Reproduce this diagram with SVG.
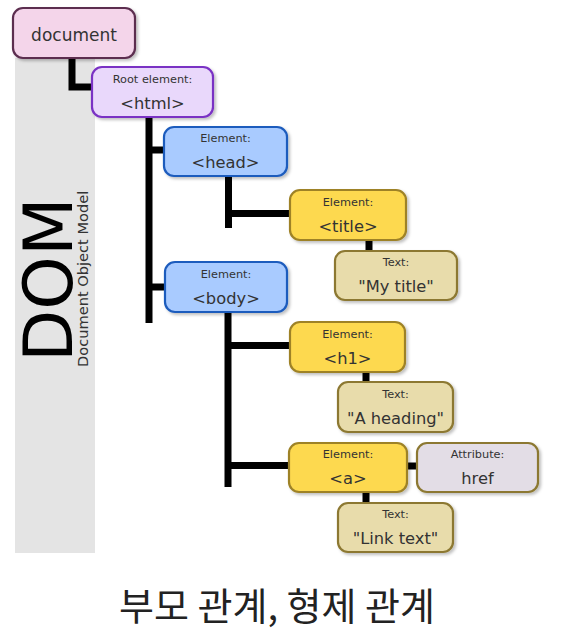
<svg xmlns="http://www.w3.org/2000/svg" width="569" height="640" viewBox="0 0 569 640">
<defs>
<filter id="sh" x="-10%" y="-10%" width="130%" height="140%">
<feDropShadow dx="2" dy="2" stdDeviation="1.5" flood-color="#000" flood-opacity="0.25"/>
</filter>
</defs>
<style>
.box{stroke-width:2.2;filter:url(#sh)}
.doc{fill:#f4d5ea;stroke:#5c2d50}
.root{fill:#e9d8fb;stroke:#7a30c4}
.el{fill:#a9cbff;stroke:#1d5bbd}
.ye{fill:#fdd94f;stroke:#9e8228}
.tx{fill:#e8dcab;stroke:#8c7830}
.at{fill:#e3dde6;stroke:#8c7830}
.s{font-family:"DejaVu Sans",sans-serif;font-size:11.3px;fill:#333;text-anchor:middle}
.b{font-family:"DejaVu Sans",sans-serif;font-size:16.3px;fill:#333;text-anchor:middle}
.c line,.c polyline{stroke:#000;stroke-width:7;fill:none}
</style>
<rect x="15" y="58" width="80" height="495" fill="#e4e4e4"/>
<text transform="translate(72,362) rotate(-90)" font-family="DejaVu Sans,sans-serif" font-size="68" fill="#000">DOM</text>
<text transform="translate(88,367) rotate(-90)" font-family="DejaVu Sans,sans-serif" font-size="14.6" fill="#333">Document Object Model</text>
<g class="c" id="connectors">
<polyline points="72,58 72,87 92,87"/>
<line x1="149" y1="117" x2="149" y2="323"/>
<line x1="149" y1="150" x2="164" y2="150"/>
<line x1="149" y1="287" x2="165" y2="287"/>
<line x1="228.5" y1="176" x2="228.5" y2="228"/>
<line x1="228.5" y1="213.5" x2="290" y2="213.5"/>
<line x1="369" y1="240" x2="369" y2="251"/>
<line x1="228" y1="312" x2="228" y2="487"/>
<line x1="228" y1="345.5" x2="290" y2="345.5"/>
<line x1="366" y1="372" x2="366" y2="382"/>
<line x1="228" y1="465.5" x2="289" y2="465.5"/>
<line x1="407" y1="466" x2="417" y2="466"/>
<line x1="366" y1="492" x2="366" y2="503"/>
</g>
<g id="document"><rect class="box doc" x="13" y="8" width="122" height="50" rx="10"/><text class="b" x="74" y="41" style="font-size:17px">document</text></g>
<g id="html"><rect class="box root" x="92" y="67" width="121" height="50" rx="10"/><text class="s" x="152.5" y="83">Root element:</text><text class="b" x="152.5" y="109">&lt;html&gt;</text></g>
<g id="head"><rect class="box el" x="164" y="127" width="123" height="49" rx="10"/><text class="s" x="225.5" y="142">Element:</text><text class="b" x="225.5" y="168">&lt;head&gt;</text></g>
<g id="title"><rect class="box ye" x="290" y="190" width="116" height="50" rx="10"/><text class="s" x="348" y="206">Element:</text><text class="b" x="348" y="232">&lt;title&gt;</text></g>
<g id="text-title"><rect class="box tx" x="335" y="251" width="122" height="49" rx="10"/><text class="s" x="396" y="266">Text:</text><text class="b" x="396" y="292">"My title"</text></g>
<g id="body"><rect class="box el" x="165" y="262" width="122" height="50" rx="10"/><text class="s" x="226" y="278">Element:</text><text class="b" x="226" y="304">&lt;body&gt;</text></g>
<g id="h1"><rect class="box ye" x="290" y="322" width="115" height="50" rx="10"/><text class="s" x="347.5" y="338">Element:</text><text class="b" x="347.5" y="364">&lt;h1&gt;</text></g>
<g id="text-h1"><rect class="box tx" x="338" y="382" width="115" height="50" rx="10"/><text class="s" x="395.5" y="398">Text:</text><text class="b" x="395.5" y="424">"A heading"</text></g>
<g id="a"><rect class="box ye" x="289" y="443" width="118" height="49" rx="10"/><text class="s" x="348" y="458">Element:</text><text class="b" x="348" y="484">&lt;a&gt;</text></g>
<g id="href"><rect class="box at" x="417" y="443" width="121" height="49" rx="10"/><text class="s" x="477.5" y="458">Attribute:</text><text class="b" x="477.5" y="484">href</text></g>
<g id="text-a"><rect class="box tx" x="338" y="503" width="115" height="49" rx="10"/><text class="s" x="395.5" y="518">Text:</text><text class="b" x="395.5" y="544">"Link text"</text></g>
<text x="277" y="620" font-family="Noto Sans CJK KR,sans-serif" font-size="38" fill="#222" text-anchor="middle">부모 관계, 형제 관계</text>
</svg>
